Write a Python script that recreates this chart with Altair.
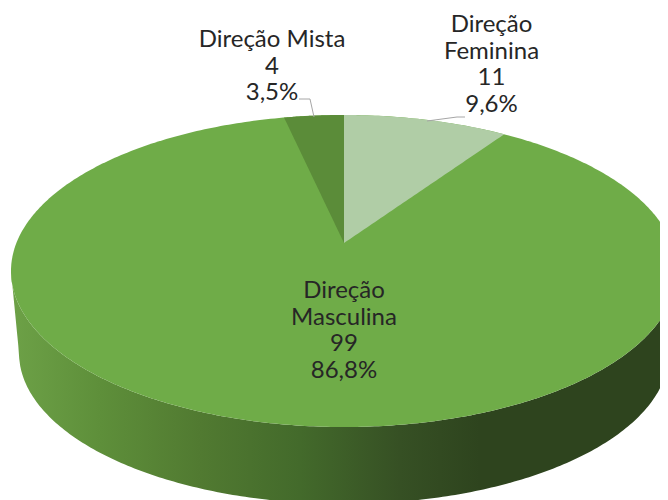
import math
import altair as alt
import numpy as np
import pandas as pd

# Data (clockwise from the top, as in the picture)
names = ["Direção Feminina", "Direção Masculina", "Direção Mista"]
label_lines = [["Direção", "Feminina"], ["Direção", "Masculina"], ["Direção Mista"]]
values = [11, 99, 4]
colors = ["#b0cda6", "#6fac48", "#5b8c39"]

# Pie geometry in picture pixels
CX, CY, RX, RY = 344, 271, 333, 156      # top face
APEX_Y = 243                             # perspective image of the pie centre
BX, BY, BRX, BRY = 344, 353, 325, 151    # bottom rim
PERSP = 0.82

total = sum(values)
fractions = [v / total for v in values]


def persp(theta):
    return 2 * math.atan2(PERSP * math.sin(theta / 2), math.cos(theta / 2))


def top_point(t):
    return CX + RX * math.sin(t), CY - RY * math.cos(t)


ts = np.linspace(-math.pi / 2, math.pi / 2, 241)
xs = CX + RX * np.sin(ts)
dy = RY * np.cos(ts)
face = pd.DataFrame({"x": xs, "y": CY - dy, "y2": CY + dy})

lower = CY + dy
bottom = []
for x in xs:
    u = (x - BX) / BRX
    if abs(u) >= 1:
        edge = (abs(x - CX) - RX) / (BRX - RX)
        bottom.append(CY + edge * (BY - CY))
    else:
        bottom.append(BY + BRY * math.sqrt(1 - u * u))
side = pd.DataFrame({"x": xs, "y": lower, "y2": bottom})


def wedge(a0, a1):
    t0, t1 = persp(a0), persp(a1)
    ex, ey = top_point(t0 if abs(t0) > abs(t1) else t1)
    rows = []
    for t in np.linspace(t0, t1, 60):
        px, py = top_point(t)
        f = (px - CX) / (ex - CX) if ex != CX else 0
        rows.append({"x": px, "y": py, "y2": APEX_Y + f * (ey - APEX_Y)})
    return pd.DataFrame(rows)


a_fem = 2 * math.pi * fractions[0]
a_mis = 2 * math.pi * fractions[2]
fem = wedge(0, a_fem)
mis = wedge(-a_mis, 0)


def label(i):
    pct = f"{100 * fractions[i]:.1f}".replace(".", ",") + "%"
    return "\n".join(label_lines[i] + [str(values[i]), pct])


labels = pd.DataFrame({
    "x": [491.5, 344, 272],
    "y": [25, 291, 40],
    "t": [label(i) for i in range(3)],
})

leaders = pd.DataFrame({
    "g": ["a", "a", "a", "b", "b", "b"],
    "o": [0, 1, 2, 0, 1, 2],
    "x": [427, 457, 465, 314, 310, 299],
    "y": [121, 117, 117, 117, 99, 99],
})

X = alt.X("x:Q", scale=alt.Scale(domain=[8, 660]), axis=None)
Y = alt.Y("y:Q", scale=alt.Scale(domain=[500, 8]), axis=None)
Y2 = alt.Y2("y2:Q")

span = RX * 2


def stop(px):
    return (px - (CX - RX)) / span


side_fill = alt.Gradient(
    gradient="linear", x1=0, x2=1, y1=0, y2=0,
    stops=[
        alt.GradientStop(offset=stop(11), color="#6da147"),
        alt.GradientStop(offset=stop(100), color="#5e8f3a"),
        alt.GradientStop(offset=stop(200), color="#517a31"),
        alt.GradientStop(offset=stop(300), color="#436a2b"),
        alt.GradientStop(offset=stop(400), color="#365024"),
        alt.GradientStop(offset=stop(480), color="#2e441e"),
        alt.GradientStop(offset=1, color="#2e441e"),
    ],
)

layers = [
    alt.Chart(side).mark_area(color=side_fill, clip=True).encode(x=X, y=Y, y2=Y2),
    alt.Chart(face).mark_area(color=colors[1], clip=True).encode(x=X, y=Y, y2=Y2),
    alt.Chart(fem).mark_area(color=colors[0], clip=True).encode(x=X, y=Y, y2=Y2),
    alt.Chart(mis).mark_area(color=colors[2], clip=True).encode(x=X, y=Y, y2=Y2),
    alt.Chart(leaders).mark_line(color="#a6a6a6", strokeWidth=1).encode(
        x=X, y=Y, detail="g:N", order="o:Q"
    ),
    alt.Chart(labels).mark_text(
        font="Lato", fontSize=24, lineBreak="\n", lineHeight=26.6,
        align="center", baseline="middle", color="#262626",
    ).encode(x=X, y=Y, text="t:N"),
]

chart = (
    alt.layer(*layers)
    .properties(width=652, height=492, padding=0, background="white")
    .configure_view(stroke=None)
)
chart.save("out.html", embed_options={"renderer": "svg", "actions": False})
